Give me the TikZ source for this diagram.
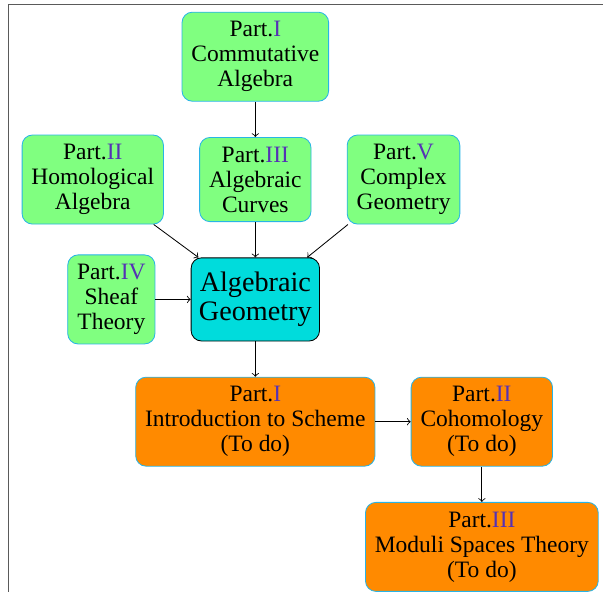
\documentclass[tikz,border=0pt]{standalone}
\usepackage{fontspec}
\setmainfont{Liberation Serif}[Scale=1.13]
\usepackage{xcolor}
\usepackage{tikz}
\usetikzlibrary{positioning}

\definecolor{partnum}{RGB}{85,50,180}
\definecolor{partedge}{RGB}{40,180,230}
\definecolor{partgreen}{RGB}{128,255,128}
\definecolor{partorange}{RGB}{255,138,0}
\definecolor{agcyan}{RGB}{0,220,220}
\definecolor{framegray}{RGB}{90,90,90}

\begin{document}
\begin{tikzpicture}[
  node distance=17pt,
  done/.style={draw=partedge, fill=partgreen, rounded corners=5pt, align=center, inner sep=4.5pt},
  todo/.style={draw=partedge, fill=partorange, rounded corners=5pt, align=center, inner sep=4.5pt},
  core/.style={draw, fill=agcyan, rounded corners=5pt, align=center, font=\large, minimum height=40pt, minimum width=60pt},
  arr/.style={->}
]
  \useasboundingbox (-122.8pt,-140.6pt) rectangle (167.2pt,144pt);
  \draw[framegray, line width=0.7pt] (-118.7pt,-140.6pt) -- (-118.7pt,141.8pt) -- (167.2pt,141.8pt);
  \node[core] (ag) {Algebraic\\Geometry};
  \node[done, above=of ag] (ac) {Part.\textcolor{partnum}{III}\\Algebraic\\Curves};
  \node[done, above=of ac] (ca) {Part.\textcolor{partnum}{I}\\Commutative\\Algebra};
  \node[done, left=of ac] (ha) {Part.\textcolor{partnum}{II}\\Homological\\Algebra};
  \node[done, right=of ac] (cg) {Part.\textcolor{partnum}{V}\\Complex\\Geometry};
  \node[done, left=of ag] (sh) {Part.\textcolor{partnum}{IV}\\Sheaf\\Theory};
  \node[todo, below=of ag] (is) {Part.\textcolor{partnum}{I}\\Introduction to Scheme\\(To do)};
  \node[todo, right=of is] (co) {Part.\textcolor{partnum}{II}\\Cohomology\\(To do)};
  \node[todo, below=of co] (mo) {Part.\textcolor{partnum}{III}\\Moduli Spaces Theory\\(To do)};
  \draw[arr] (ca) -- (ac);
  \draw[arr] (ac) -- (ag);
  \draw[arr] (ha) -- (ag);
  \draw[arr] (cg) -- (ag);
  \draw[arr] (sh) -- (ag);
  \draw[arr] (ag) -- (is);
  \draw[arr] (is) -- (co);
  \draw[arr] (co) -- (mo);
\end{tikzpicture}
\end{document}
